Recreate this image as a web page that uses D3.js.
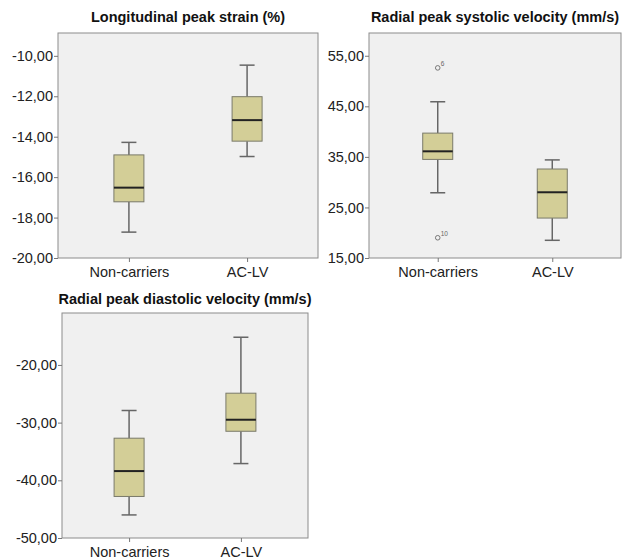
<!DOCTYPE html>
<html lang="en">
<head>
<meta charset="UTF-8">
<title>Box plots</title>
<style>
    body { margin: 0; background: #fff; }
    svg text { font-family: "Liberation Sans", Arial, sans-serif; }
</style>
</head>
<body>
<svg id="chart" width="624" height="559"></svg>
<script src="https://cdnjs.cloudflare.com/ajax/libs/d3/7.8.5/d3.min.js"></script>
<script>
    // categories on the x axis (same for all three panels)
    const categories = ["Non-carriers", "AC-LV"];

    // Longitudinal peak strain (%)
    const strainLow = [-18.72, -14.98];
    const strainQ1 = [-17.22, -14.22];
    const strainMedian = [-16.52, -13.18];
    const strainQ3 = [-14.9, -12.02];
    const strainHigh = [-14.28, -10.46];
    const strainOutliers = [];
    const strainTicks = [-20, -18, -16, -14, -12, -10];

    // Radial peak systolic velocity (mm/s)
    const systolicLow = [27.9, 18.5];
    const systolicQ1 = [34.5, 22.9];
    const systolicMedian = [36.1, 28.0];
    const systolicQ3 = [39.7, 32.6];
    const systolicHigh = [45.9, 34.4];
    const systolicOutliers = [
        { cat: "Non-carriers", value: 52.6, label: "6" },
        { cat: "Non-carriers", value: 19.0, label: "10" }
    ];
    const systolicTicks = [15, 25, 35, 45, 55];

    // Radial peak diastolic velocity (mm/s)
    const diastolicLow = [-46.0, -37.1];
    const diastolicQ1 = [-42.8, -31.5];
    const diastolicMedian = [-38.4, -29.5];
    const diastolicQ3 = [-32.7, -24.9];
    const diastolicHigh = [-27.9, -15.2];
    const diastolicOutliers = [];
    const diastolicTicks = [-50, -40, -30, -20];

    const fmt = d3.formatLocale({ decimal: ",", thousands: ".", grouping: [3], currency: ["", ""], minus: "-" }).format(".2f");

    const svg = d3.select("#chart");

    const panels = [
        { title: "Longitudinal peak strain (%)", x0: 58, x1: 318, y0: 33, y1: 258, domain: [-20, -8.87], titleY: 22,
          low: strainLow, q1: strainQ1, med: strainMedian, q3: strainQ3, high: strainHigh, outliers: strainOutliers, ticks: strainTicks },
        { title: "Radial peak systolic velocity (mm/s)", x0: 369, x1: 621, y0: 33, y1: 258, domain: [15, 59.5], titleY: 22,
          low: systolicLow, q1: systolicQ1, med: systolicMedian, q3: systolicQ3, high: systolicHigh, outliers: systolicOutliers, ticks: systolicTicks },
        { title: "Radial peak diastolic velocity (mm/s)", x0: 62, x1: 308, y0: 313, y1: 538, domain: [-50, -11.0], titleY: 304,
          low: diastolicLow, q1: diastolicQ1, med: diastolicMedian, q3: diastolicQ3, high: diastolicHigh, outliers: diastolicOutliers, ticks: diastolicTicks }
    ];

    panels.forEach(p => {
        const g = svg.append("g");
        const x = d3.scalePoint().domain(categories).range([p.x0, p.x1]).padding(0.6);
        const y = d3.scaleLinear().domain(p.domain).range([p.y1, p.y0]);

        // plot background
        g.append("rect")
            .attr("x", p.x0).attr("y", p.y0)
            .attr("width", p.x1 - p.x0).attr("height", p.y1 - p.y0)
            .attr("fill", "#f0f0f0")
            .attr("stroke", "#8c8c8c")
            .attr("stroke-width", 1);

        // title
        g.append("text")
            .attr("x", (p.x0 + p.x1) / 2)
            .attr("y", p.titleY)
            .attr("text-anchor", "middle")
            .attr("font-size", "14.5px")
            .attr("font-weight", "bold")
            .attr("fill", "#111")
            .text(p.title);

        // axes
        const yAxis = d3.axisLeft(y).tickValues(p.ticks).tickFormat(fmt).tickSize(4).tickPadding(1);
        const ya = g.append("g").attr("transform", `translate(${p.x0},0)`).call(yAxis);
        const xAxis = d3.axisBottom(x).tickSize(4).tickPadding(5);
        const xa = g.append("g").attr("transform", `translate(0,${p.y1})`).call(xAxis);
        [ya, xa].forEach(a => {
            a.select(".domain").remove();
            a.selectAll(".tick line").attr("stroke", "#777");
            a.selectAll(".tick text")
                .attr("font-size", "14.5px")
                .attr("font-family", "'Liberation Sans', Arial, sans-serif")
                .attr("fill", "#222");
        });

        const boxW = 30, capW = 15;
        categories.forEach((c, i) => {
            const cx = x(c);
            const b = g.append("g");
            // whiskers
            b.append("line").attr("x1", cx).attr("x2", cx).attr("y1", y(p.high[i])).attr("y2", y(p.q3[i]))
                .attr("stroke", "#666").attr("stroke-width", 1.5);
            b.append("line").attr("x1", cx).attr("x2", cx).attr("y1", y(p.q1[i])).attr("y2", y(p.low[i]))
                .attr("stroke", "#666").attr("stroke-width", 1.5);
            b.append("line").attr("x1", cx - capW / 2).attr("x2", cx + capW / 2).attr("y1", y(p.high[i])).attr("y2", y(p.high[i]))
                .attr("stroke", "#666").attr("stroke-width", 1.5);
            b.append("line").attr("x1", cx - capW / 2).attr("x2", cx + capW / 2).attr("y1", y(p.low[i])).attr("y2", y(p.low[i]))
                .attr("stroke", "#666").attr("stroke-width", 1.5);
            // box
            b.append("rect")
                .attr("x", cx - boxW / 2).attr("y", y(p.q3[i]))
                .attr("width", boxW).attr("height", y(p.q1[i]) - y(p.q3[i]))
                .attr("fill", "#d3ce97")
                .attr("stroke", "#7a7a6a")
                .attr("stroke-width", 1);
            // median
            b.append("line").attr("x1", cx - boxW / 2).attr("x2", cx + boxW / 2)
                .attr("y1", y(p.med[i])).attr("y2", y(p.med[i]))
                .attr("stroke", "#222").attr("stroke-width", 2);
        });

        // outliers
        p.outliers.forEach(o => {
            g.append("circle")
                .attr("cx", x(o.cat)).attr("cy", y(o.value)).attr("r", 2.3)
                .attr("fill", "none").attr("stroke", "#777").attr("stroke-width", 1);
            g.append("text")
                .attr("x", x(o.cat) + 3).attr("y", y(o.value) - 2)
                .attr("font-size", "6.5px").attr("fill", "#666")
                .text(o.label);
        });
    });
</script>
</body>
</html>
